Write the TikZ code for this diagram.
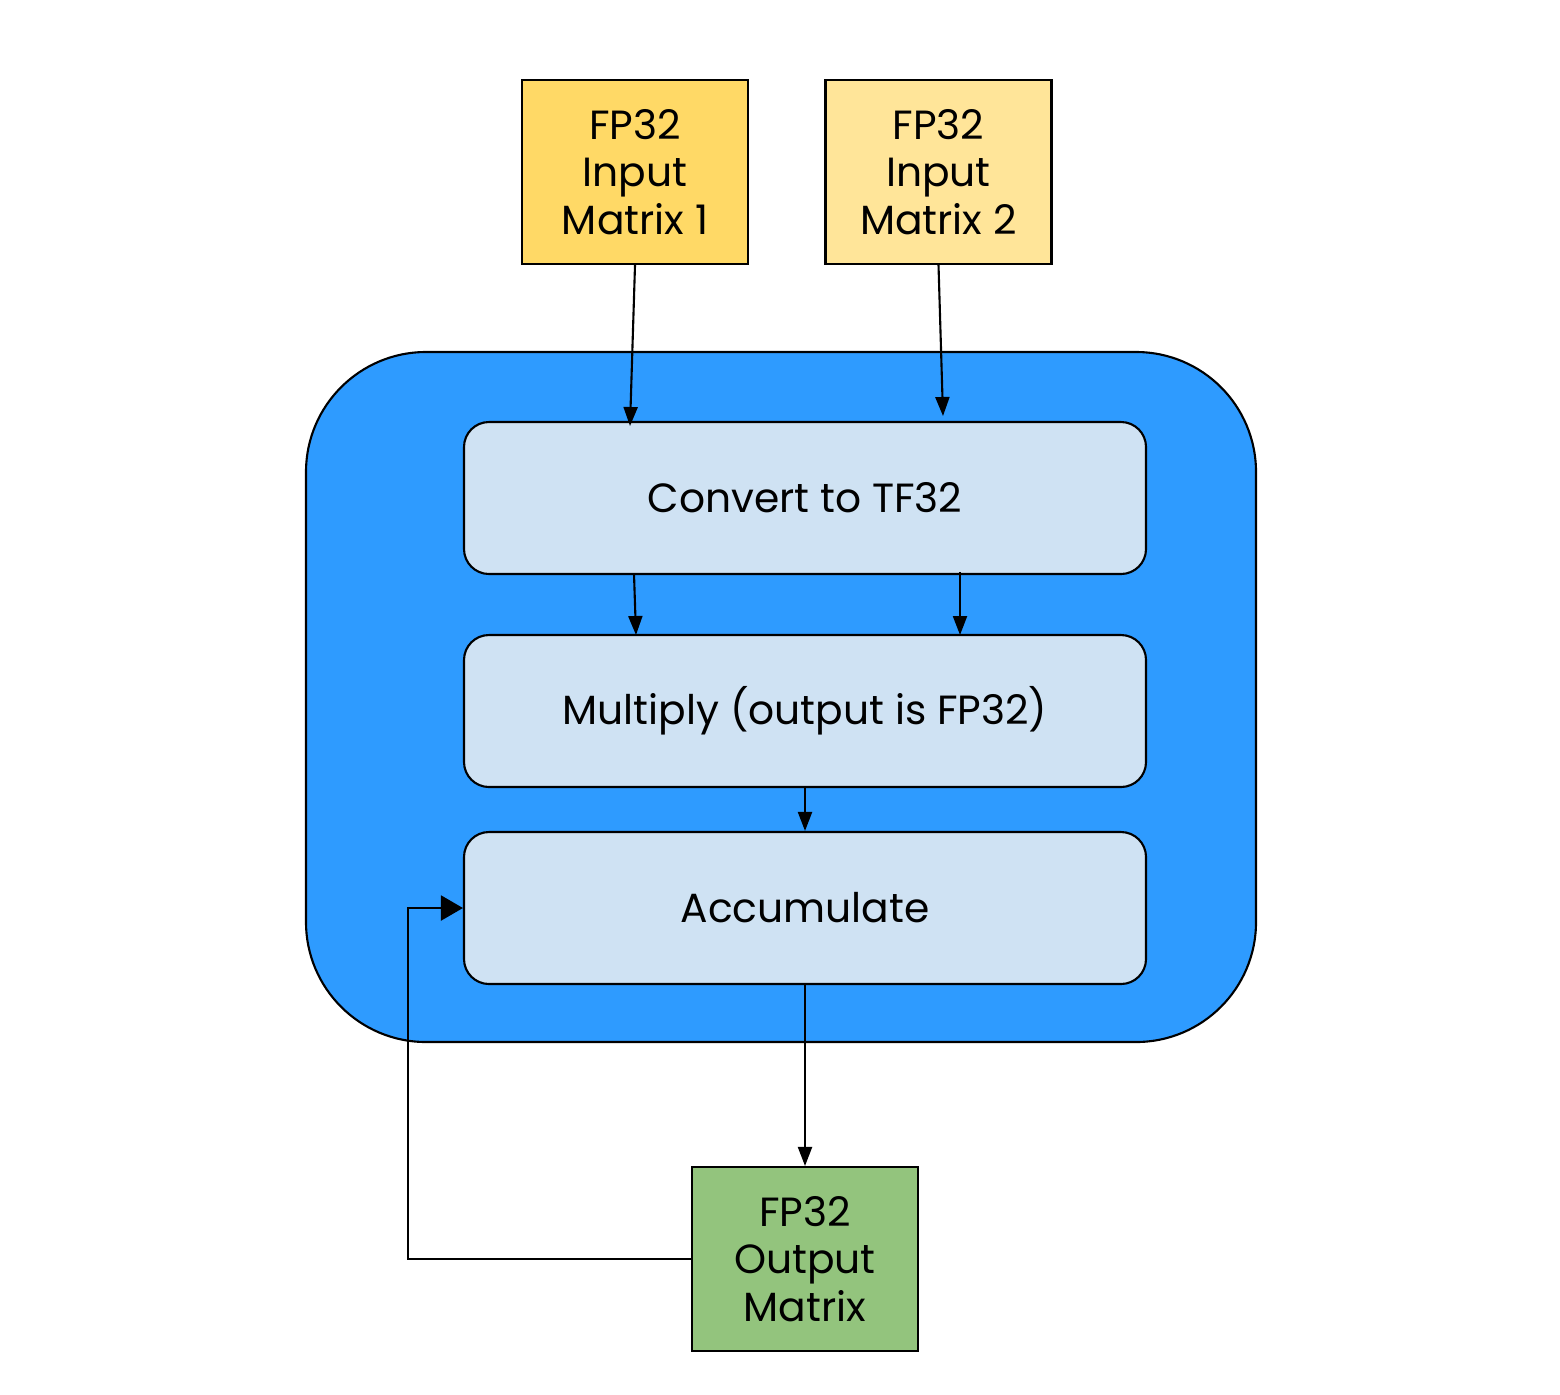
\documentclass[tikz,border=0pt]{standalone}
\usepackage{fontspec}
\setmainfont{Poppins}
\usetikzlibrary{arrows.meta, calc, positioning}
\definecolor{inone}{HTML}{FFD966}
\definecolor{intwo}{HTML}{FFE599}
\definecolor{corebg}{HTML}{2E9BFF}
\definecolor{stagebg}{HTML}{CFE2F3}
\definecolor{outbg}{HTML}{93C47D}
\tikzset{
  % matrice (ingresso/uscita)
  matbox/.style={draw=black, line width=0.6pt, minimum width=2.26cm, minimum height=1.84cm,
    align=center, inner sep=0pt, font=\fontsize{11.6}{13.6}\selectfont},
  % blocco del tensor core
  core/.style={draw=black, line width=0.6pt, rounded corners=1.2cm, fill=corebg,
    minimum width=9.5cm, minimum height=6.9cm},
  % fase di calcolo
  stage/.style={draw=black, line width=0.6pt, rounded corners=0.25cm, fill=stagebg,
    minimum width=6.82cm, minimum height=1.52cm, align=center,
    font=\fontsize{11.6}{13.6}\selectfont},
  % frecce
  flow/.style={-{Triangle[length=1.9mm, width=1.4mm]}, line width=0.6pt},
  feedback/.style={-{Triangle[length=2.2mm, width=2.5mm]}, line width=0.6pt},
}
\begin{document}
\begin{tikzpicture}[x=1cm, y=-1cm]
  \useasboundingbox (0,0) rectangle (15.6,13.94);
  \node[core] (tc) at (7.81,6.97) {};
  \node[matbox, fill=inone] (in1) at (6.35,1.72) {FP32\\Input\\Matrix 1};
  \node[matbox, fill=intwo] (in2) at (9.385,1.72) {FP32\\Input\\Matrix 2};
  \node[stage] (conv) at (8.05,4.98) {Convert to TF32};
  \node[stage] (mult) at (8.05,7.11) {Multiply (output is FP32)};
  \node[stage] (acc) at (8.05,9.08) {Accumulate};
  \node[matbox, fill=outbg] (out) at (8.05,12.59) {FP32\\Output\\Matrix};
  % punti di arrivo/partenza delle frecce
  \coordinate (c1in) at (6.30,4.26);
  \coordinate (c2in) at (9.43,4.16);
  \coordinate (c1out) at (6.34,5.74);
  \coordinate (c2out) at (9.60,5.72);
  \coordinate (m1in) at (6.36,6.35);
  \coordinate (m2in) at (9.60,6.35);
  \draw[flow] (in1.south) -- (c1in);
  \draw[flow] (in2.south) -- (c2in);
  \draw[flow] (c1out) -- (m1in);
  \draw[flow] (c2out) -- (m2in);
  \draw[flow] (mult.south) -- (acc.north);
  \draw[flow] (acc.south) -- (out.north);
  \draw[feedback] (out.west) -- ++(-2.83,0) |- (acc.west);
\end{tikzpicture}
\end{document}
